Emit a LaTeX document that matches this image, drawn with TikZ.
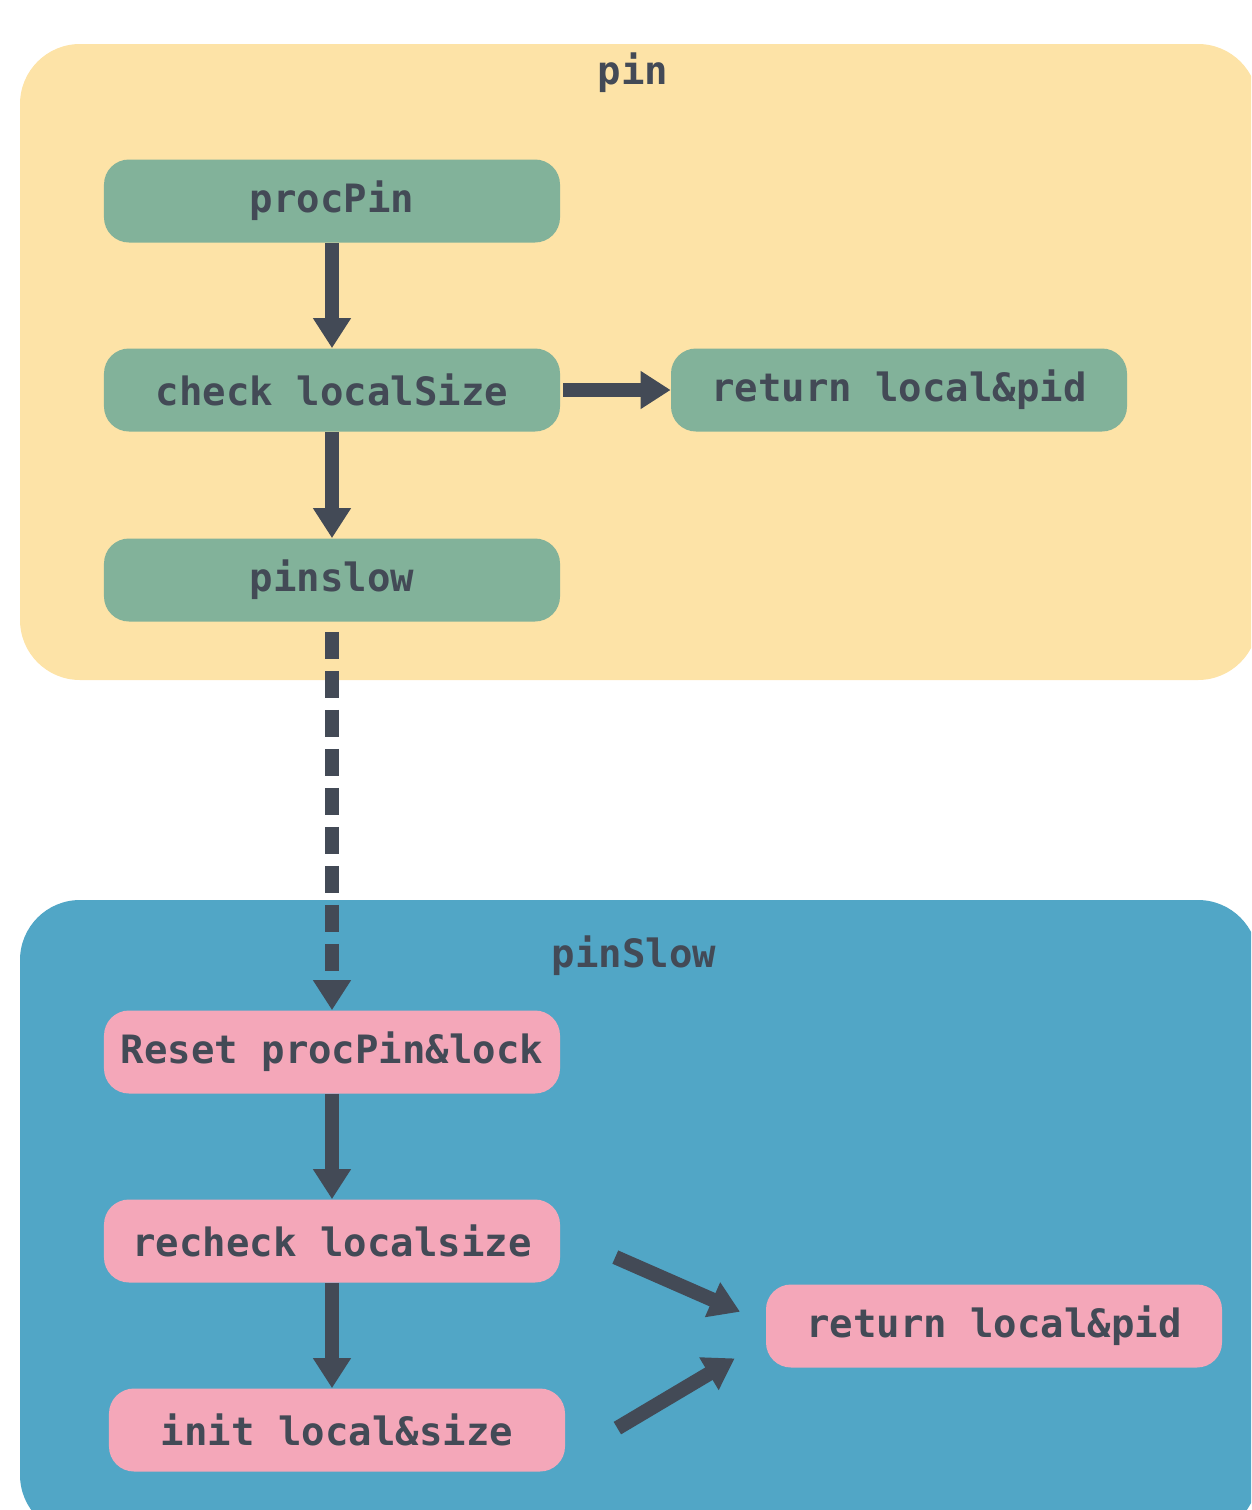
\documentclass[tikz,border=0pt]{standalone}
\usepackage{fontspec}
\setmonofont{DejaVu Sans Mono}
\usepackage{tikz}
\usetikzlibrary{arrows.meta}
\definecolor{pinbg}{HTML}{FDE3A7}
\definecolor{slowbg}{HTML}{51A6C6}
\definecolor{greenbox}{HTML}{82B29A}
\definecolor{pinkbox}{HTML}{F4A7B9}
\definecolor{ink}{HTML}{434A56}
\tikzset{
    box/.style={rounded corners=5mm, minimum width=91.2mm, minimum height=16.6mm, inner sep=0pt,
        text=ink, font=\fontsize{22.2}{27}\selectfont\ttfamily\bfseries},
    gbox/.style={box, fill=greenbox},
    pbox/.style={box, fill=pinkbox},
    title/.style={text=ink, font=\fontsize{22.2}{27}\selectfont\ttfamily\bfseries},
    arr/.style={draw=ink, line width=2.9mm, -{Triangle[length=6mm, width=7.2mm]}}
}

\begin{document}
\begin{tikzpicture}[x=0.2mm, y=-0.2mm]
            \useasboundingbox (0,0) rectangle (1251,1510);
            \clip (0,0) rectangle (1251,1510);
            % groups
            \fill[pinbg, rounded corners=12mm] (20,44) rectangle (1258,680);
            \fill[slowbg, rounded corners=12mm] (20,900) rectangle (1258,1535);
            \node[title] (pin) at (633,73) {pin};
            \node[title] (slow) at (634,956) {pinSlow};
            % pin
            \node[gbox] (procpin) at (332,201) {procPin};
            \node[gbox] (check) at (332,390) {check localSize};
            \node[gbox] (retA) at (899,390) {return local\&pid};
            \node[gbox] (pinslow) at (332,580) {pinslow};
            % pinSlow
            \node[pbox] (reset) at (332,1052) {Reset procPin\&lock};
            \node[pbox] (recheck) at (332,1241) {recheck localsize};
            \node[pbox] (init) at (337,1430) {init local\&size};
            \node[pbox] (retB) at (994,1326) {return local\&pid};
            \draw[arr] (procpin) -- (check);
            \draw[arr] (check) -- (pinslow);
            \draw[arr, shorten <=0.6mm] (check) -- (retA);
            \draw[arr, dash pattern=on 5.4mm off 2.4mm, shorten <=2mm] (pinslow) -- (reset);
            \draw[arr] (reset) -- (recheck);
            \draw[arr] (recheck) -- (recheck |- init.north);
            \draw[arr, shorten <=12mm, shorten >=5.6mm] ([yshift=1.6mm]recheck.east) -- ([yshift=0.6mm]retB.west);
            \draw[arr, shorten <=12.1mm, shorten >=7.2mm] ([yshift=-5.8mm]init.east) -- ([yshift=-2.8mm]retB.west);
        \end{tikzpicture}
\end{document}
